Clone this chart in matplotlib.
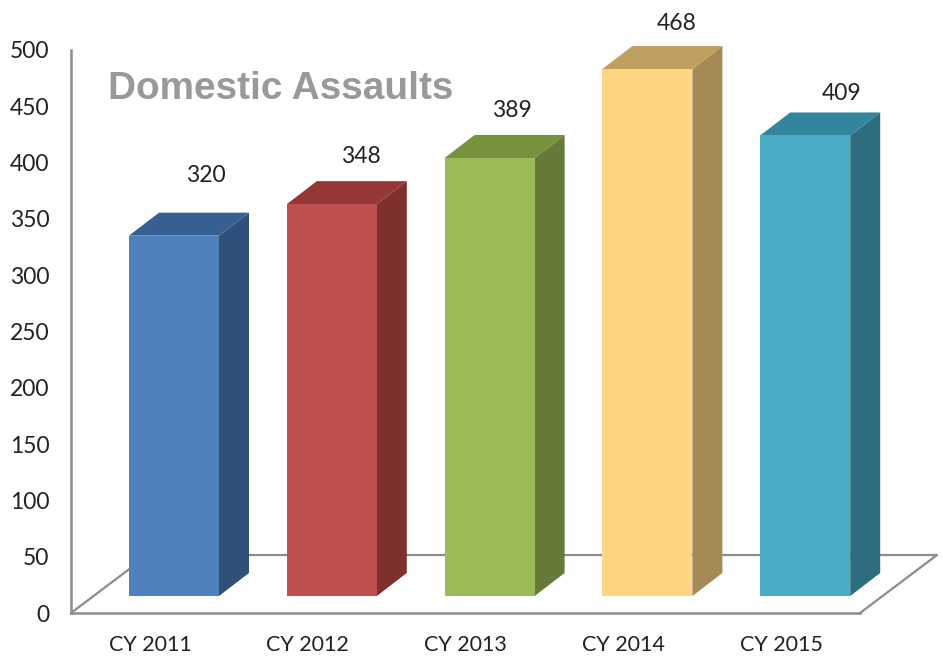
import numpy as np
import matplotlib.pyplot as plt

categories = ["CY 2011", "CY 2012", "CY 2013", "CY 2014", "CY 2015"]
values = [320, 348, 389, 468, 409]
y_ticks = [0, 50, 100, 150, 200, 250, 300, 350, 400, 450, 500]

front_colors = ["#4F81BD", "#C0504D", "#9BBB59", "#FFD584", "#4BACC6"]
top_colors = ["#376092", "#953735", "#76923C", "#BFA060", "#31859C"]
side_colors = ["#2F5078", "#7D302E", "#667A3A", "#A68A55", "#2E6D80"]

# hand placed label offsets from the bar top, in points
label_offsets = [(23, 43), (21, 34), (16, 34), (21, 33), (26, 30)]

W, H = 943, 656
PX_PER_CAT = 157.8
PX_PER_UNIT = 1.126
AX_LEFT, AX_RIGHT, AX_TOP, AX_BOTTOM = 71, 860, 50, 613

plt.rcParams["font.family"] = ["Lato", "DejaVu Sans"]

fig = plt.figure(figsize=(W / 100, H / 100), dpi=100)
ax = fig.add_axes([AX_LEFT / W, 1 - AX_BOTTOM / H, (AX_RIGHT - AX_LEFT) / W, (AX_BOTTOM - AX_TOP) / H])

x = np.arange(len(categories))
ax.set_xlim((AX_LEFT - 174) / PX_PER_CAT, (AX_RIGHT - 174) / PX_PER_CAT)
ax.set_ylim(0, 500)

width = 90 / PX_PER_CAT
lift = 17 / PX_PER_UNIT
dx = 30 / PX_PER_CAT
dy = 23 / PX_PER_UNIT

# floor of the 3d chart
x0, x1 = ax.get_xlim()
floor_dx = 77 / PX_PER_CAT
floor_dy = 58 / PX_PER_UNIT
floor_color = "#8C8C8C"
ax.plot([x0, x0 + floor_dx, x1 + floor_dx, x1], [0, floor_dy, floor_dy, 0],
        color=floor_color, lw=1.6, clip_on=False, zorder=1)

# bars: front face, then side and top
ax.bar(x, values, width=width, bottom=lift, color=front_colors, zorder=3)
for i, v in enumerate(values):
    left = x[i] - width / 2
    right = x[i] + width / 2
    top = v + lift
    ax.fill([right, right + dx, right + dx, right], [lift, lift + dy, top + dy, top],
            color=side_colors[i], lw=0, clip_on=False, zorder=2)
    ax.fill([left, left + dx, right + dx, right], [top, top + dy, top + dy, top],
            color=top_colors[i], lw=0, clip_on=False, zorder=2)
    ax.annotate(str(v), (x[i], top), xytext=label_offsets[i], textcoords="offset points",
                ha="center", va="center", fontsize=16.5, color="#222222", annotation_clip=False)

for s in ["top", "right"]:
    ax.spines[s].set_visible(False)
for s in ["left", "bottom"]:
    ax.spines[s].set_color(floor_color)
    ax.spines[s].set_linewidth(1.8)

ax.set_yticks(y_ticks)
ax.tick_params(axis="y", length=0, pad=15.5, labelsize=16.5, labelcolor="#222222")
ax.set_xticks(x - 24 / PX_PER_CAT)
ax.set_xticklabels(categories)
ax.tick_params(axis="x", length=0, pad=16, labelsize=15.5, labelcolor="#222222")

fig.text(108 / W, 1 - 89 / H, "Domestic Assaults", fontsize=27.9, fontweight="bold",
         family="Liberation Sans", color="#999999", ha="left", va="center")

fig.savefig("out.png", dpi=100)
